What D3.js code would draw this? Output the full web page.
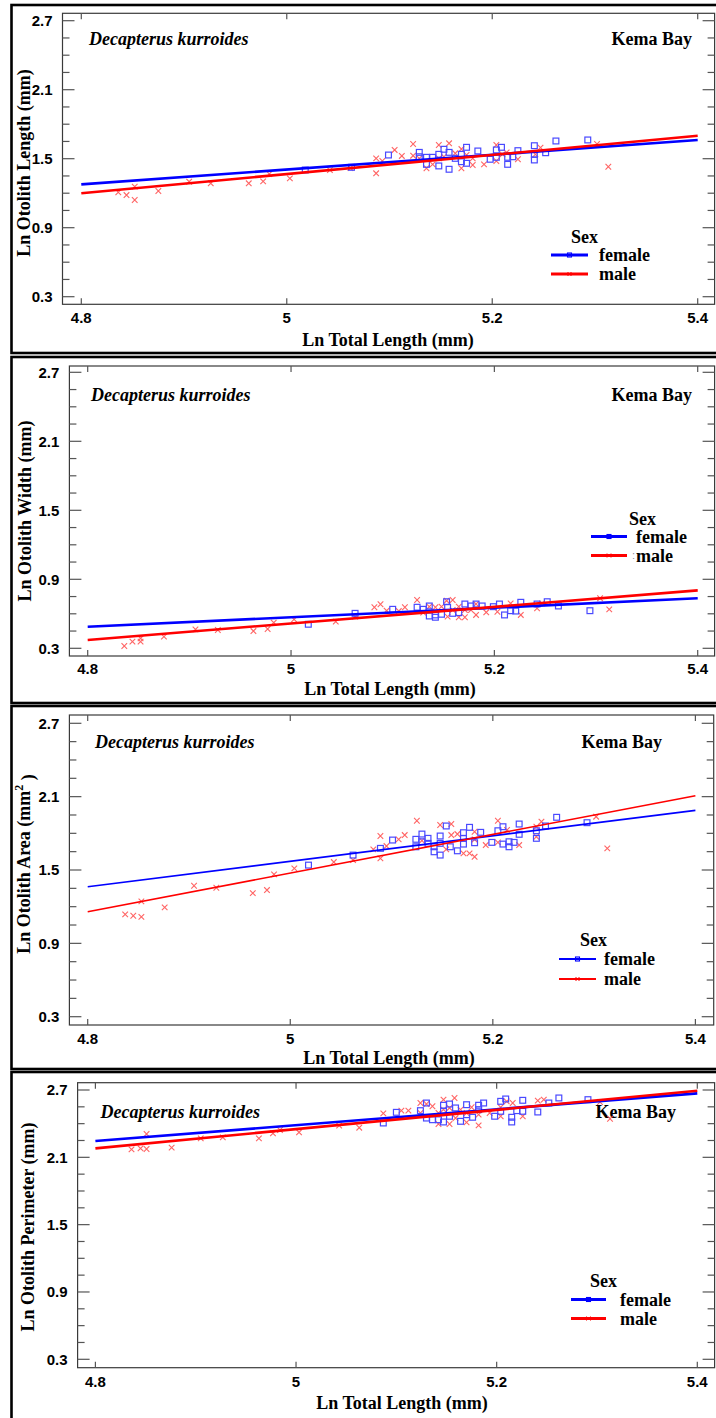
<!DOCTYPE html>
<html><head><meta charset="utf-8">
<script src="https://cdn.jsdelivr.net/npm/d3@7"></script>
<style>
  body { margin: 0; background: #fff; }
  svg { display: block; }
</style>
</head>
<body>
<svg id="fig" width="716" height="1418"></svg>
<script>
// Decapterus kurroides, Kema Bay: otolith dimensions against total length (ln scale)

const xTicks = [4.8, 5, 5.2, 5.4];
const yTicks = [0.3, 0.9, 1.5, 2.1, 2.7];
const yMinorTicks = d3.range(0.3, 2.7001, 0.15);
const fitX = [4.8, 5.4];
const sexes = ["female", "male"];

// Otolith length: [ln TL, ln OL]
const olFemale = [[5.018,1.402],[5.063,1.425],[5.099,1.532],[5.129,1.555],[5.129,1.517],[5.136,1.512],[5.136,1.451],[5.142,1.512],[5.148,1.538],[5.148,1.437],[5.153,1.582],[5.158,1.555],[5.158,1.408],[5.164,1.503],[5.170,1.538],[5.170,1.474],[5.175,1.599],[5.175,1.460],[5.186,1.567],[5.198,1.495],[5.204,1.576],[5.204,1.512],[5.209,1.599],[5.215,1.512],[5.215,1.451],[5.220,1.517],[5.225,1.570],[5.241,1.613],[5.241,1.538],[5.241,1.489],[5.252,1.552],[5.262,1.654],[5.293,1.663]];
const olMale = [[4.836,1.208],[4.844,1.184],[4.852,1.141],[4.852,1.257],[4.875,1.219],[4.905,1.300],[4.926,1.286],[4.963,1.286],[4.977,1.303],[4.983,1.367],[5.003,1.329],[5.042,1.401],[5.062,1.419],[5.087,1.503],[5.087,1.373],[5.093,1.480],[5.105,1.576],[5.112,1.524],[5.123,1.628],[5.123,1.526],[5.129,1.503],[5.136,1.417],[5.142,1.451],[5.148,1.619],[5.148,1.503],[5.153,1.517],[5.158,1.634],[5.164,1.547],[5.170,1.584],[5.170,1.417],[5.175,1.532],[5.181,1.503],[5.181,1.445],[5.192,1.451],[5.204,1.619],[5.204,1.480],[5.210,1.538],[5.214,1.555],[5.225,1.495],[5.242,1.538],[5.247,1.596],[5.302,1.628],[5.313,1.430]];
const olFemaleFit = [1.277, 1.663];
const olMaleFit = [1.199, 1.700];

// Otolith width: [ln TL, ln OW]
const owFemale = [[5.017,0.509],[5.063,0.604],[5.100,0.639],[5.124,0.657],[5.130,0.639],[5.136,0.668],[5.136,0.581],[5.142,0.590],[5.142,0.570],[5.148,0.596],[5.153,0.705],[5.154,0.657],[5.159,0.604],[5.165,0.610],[5.171,0.685],[5.177,0.668],[5.182,0.685],[5.188,0.668],[5.199,0.662],[5.205,0.685],[5.210,0.590],[5.216,0.627],[5.221,0.624],[5.226,0.700],[5.242,0.685],[5.252,0.705],[5.263,0.668],[5.294,0.627]];
const owMale = [[4.836,0.320],[4.844,0.358],[4.852,0.358],[4.852,0.387],[4.875,0.401],[4.906,0.465],[4.928,0.459],[4.963,0.450],[4.977,0.468],[4.983,0.523],[5.003,0.552],[5.044,0.532],[5.063,0.575],[5.082,0.657],[5.088,0.683],[5.094,0.627],[5.106,0.624],[5.112,0.657],[5.124,0.720],[5.130,0.610],[5.136,0.662],[5.142,0.657],[5.148,0.662],[5.153,0.714],[5.159,0.720],[5.154,0.575],[5.159,0.633],[5.165,0.662],[5.165,0.570],[5.171,0.633],[5.171,0.570],[5.177,0.633],[5.182,0.685],[5.182,0.590],[5.192,0.613],[5.203,0.618],[5.216,0.691],[5.226,0.590],[5.242,0.648],[5.247,0.691],[5.304,0.735],[5.313,0.639]];
const owFemaleFit = [0.488, 0.735];
const owMaleFit = [0.372, 0.804];

// Otolith area: [ln TL, ln OA]
const oaFemale = [[5.018,1.540],[5.062,1.622],[5.089,1.677],[5.101,1.745],[5.124,1.751],[5.124,1.690],[5.130,1.794],[5.130,1.731],[5.136,1.759],[5.136,1.718],[5.142,1.690],[5.142,1.649],[5.148,1.778],[5.148,1.718],[5.148,1.622],[5.154,1.860],[5.158,1.690],[5.165,1.657],[5.171,1.805],[5.171,1.759],[5.171,1.712],[5.177,1.849],[5.182,1.723],[5.188,1.808],[5.199,1.726],[5.205,1.821],[5.210,1.854],[5.210,1.712],[5.216,1.731],[5.216,1.690],[5.221,1.726],[5.226,1.876],[5.226,1.792],[5.243,1.821],[5.243,1.759],[5.252,1.860],[5.263,1.931],[5.293,1.887]];
const oaMale = [[4.837,1.137],[4.845,1.126],[4.853,1.117],[4.853,1.243],[4.876,1.194],[4.905,1.371],[4.927,1.355],[4.963,1.311],[4.977,1.336],[4.984,1.464],[5.004,1.513],[5.043,1.565],[5.062,1.581],[5.082,1.669],[5.089,1.778],[5.089,1.595],[5.095,1.696],[5.107,1.751],[5.113,1.786],[5.125,1.903],[5.130,1.740],[5.148,1.868],[5.159,1.876],[5.154,1.669],[5.159,1.786],[5.165,1.794],[5.171,1.636],[5.177,1.636],[5.182,1.608],[5.182,1.813],[5.182,1.750],[5.193,1.704],[5.205,1.903],[5.205,1.726],[5.214,1.827],[5.226,1.704],[5.243,1.854],[5.243,1.772],[5.248,1.895],[5.302,1.936],[5.313,1.677]];
const oaFemaleFit = [1.363, 1.988];
const oaMaleFit = [1.158, 2.108];

// Otolith perimeter: [ln TL, ln OP]
const opFemale = [[5.087,2.406],[5.100,2.501],[5.124,2.516],[5.130,2.584],[5.130,2.450],[5.136,2.435],[5.142,2.435],[5.147,2.564],[5.147,2.510],[5.147,2.415],[5.153,2.575],[5.153,2.466],[5.159,2.540],[5.164,2.421],[5.170,2.569],[5.170,2.480],[5.176,2.457],[5.182,2.564],[5.182,2.525],[5.187,2.584],[5.198,2.466],[5.204,2.599],[5.204,2.510],[5.209,2.620],[5.215,2.457],[5.215,2.415],[5.220,2.516],[5.226,2.608],[5.226,2.510],[5.241,2.504],[5.252,2.584],[5.262,2.629],[5.291,2.614]];
const opMale = [[4.836,2.171],[4.845,2.180],[4.851,2.174],[4.851,2.308],[4.876,2.186],[4.905,2.269],[4.927,2.278],[4.963,2.269],[4.977,2.314],[4.984,2.344],[5.003,2.323],[5.043,2.382],[5.063,2.364],[5.087,2.492],[5.105,2.516],[5.112,2.516],[5.124,2.584],[5.124,2.495],[5.130,2.575],[5.136,2.555],[5.142,2.397],[5.142,2.495],[5.147,2.614],[5.147,2.525],[5.153,2.540],[5.153,2.397],[5.158,2.629],[5.159,2.450],[5.164,2.525],[5.170,2.495],[5.170,2.412],[5.175,2.546],[5.182,2.480],[5.182,2.385],[5.193,2.495],[5.204,2.546],[5.204,2.466],[5.210,2.599],[5.216,2.584],[5.226,2.466],[5.241,2.605],[5.247,2.614],[5.303,2.593],[5.313,2.444]];
const opFemaleFit = [2.245, 2.670];
const opMaleFit = [2.180, 2.694];

const species = "Decapterus kurroides";
const place = "Kema Bay";
const xTitle = "Ln Total Length (mm)";

// Layout of each framed panel
const panels = [
  { yTitle: ["Ln Otolith Length (mm)"], female: olFemale, male: olMale, fFit: olFemaleFit, mFit: olMaleFit,
    box: [5, 353], frame: [62.5, 714.6, 13.3, 304.3], xr: [81.3, 697.7], yr: [20.7, 296.7],
    yT: [24, 163], xT: [388, 340], tickY: 318, sp: [89, 38.5], pl: [692, 38.5],
    lg: { sx: 571, sy: 237, l0: 551, l1: 588, fy: 255, my: 274, tx: 599 }, lw: 2.6 },
  { yTitle: ["Ln Otolith Width (mm)"], female: owFemale, male: owMale, fFit: owFemaleFit, mFit: owMaleFit,
    box: [357, 703], frame: [69.4, 714.6, 366, 656], xr: [87.7, 697.7], yr: [372.3, 648.3],
    yT: [25, 511], xT: [390, 689], tickY: 669, sp: [91, 395], pl: [692, 395],
    lg: { sx: 629, sy: 519, l0: 591, l1: 627, fy: 536.5, my: 555.5, tx: 636, colon: true }, lw: 2.6 },
  { yTitle: ["Ln Otolith Area (mm", "2", " )"], female: oaFemale, male: oaMale, fFit: oaFemaleFit, mFit: oaMaleFit,
    box: [706, 1069], frame: [69.4, 713.7, 715, 1025], xr: [87.7, 695.4], yr: [723.3, 1016.7],
    yT: [24, 864], xT: [389, 1058], tickY: 1039, sp: [95, 742], pl: [662, 742],
    lg: { sx: 580, sy: 940, l0: 559, l1: 596, fy: 959, my: 979, tx: 604 }, lw: 1.6 },
  { yTitle: ["Ln Otolith Perimeter (mm)"], female: opFemale, male: opMale, fFit: opFemaleFit, mFit: opMaleFit,
    box: [1072, 1422], frame: [77.6, 714.6, 1082.7, 1367.7], xr: [95.4, 697.3], yr: [1090, 1359.3],
    yT: [28, 1227], xT: [402, 1403], tickY: 1382, sp: [100.5, 1112], pl: [676, 1112],
    lg: { sx: 590, sy: 1281, l0: 571, l1: 606, fy: 1299.5, my: 1318.5, tx: 620 }, lw: 2.6 }
];

const colors = { female: "#0000ff", male: "#ff0000" };
const markColors = { female: "#2a2aff", male: "#ff4a4a" };
const serif = "'Liberation Serif', 'Times New Roman', serif";
const sans = "'Liberation Sans', Arial, sans-serif";

const svg = d3.select("#fig");

function square(g, x, y, s, color, w) {
  g.append("rect").attr("x", x - s / 2).attr("y", y - s / 2).attr("width", s).attr("height", s)
    .attr("fill", "none").attr("stroke", color).attr("stroke-width", w);
}
function cross(g, x, y, s, color, w) {
  const h = s / 2;
  g.append("path").attr("d", `M${x - h},${y - h}L${x + h},${y + h}M${x - h},${y + h}L${x + h},${y - h}`)
    .attr("stroke", color).attr("stroke-width", w).attr("fill", "none");
}

panels.forEach(p => {
  const g = svg.append("g");
  const [fx0, fx1, fy0, fy1] = p.frame;
  const x = d3.scaleLinear().domain([4.8, 5.4]).range(p.xr);
  const y = d3.scaleLinear().domain([2.7, 0.3]).range(p.yr);

  // outer panel border
  g.append("rect").attr("x", 11.5).attr("y", p.box[0]).attr("width", 712).attr("height", p.box[1] - p.box[0])
    .attr("fill", "none").attr("stroke", "#000").attr("stroke-width", 2.6);

  // plot frame
  g.append("rect").attr("x", fx0).attr("y", fy0).attr("width", fx1 - fx0).attr("height", fy1 - fy0)
    .attr("fill", "none").attr("stroke", "#3a3a3a").attr("stroke-width", 1.2);

  // y ticks on both sides, pointing inward
  const tickG = g.append("g").attr("stroke", "#555").attr("stroke-width", 1.2);
  yMinorTicks.forEach(v => {
    const major = yTicks.some(t => Math.abs(t - v) < 1e-6);
    const len = major ? 12 : 7;
    tickG.append("line").attr("x1", fx0).attr("x2", fx0 + len).attr("y1", y(v)).attr("y2", y(v));
    tickG.append("line").attr("x1", fx1).attr("x2", fx1 - len).attr("y1", y(v)).attr("y2", y(v));
  });
  xTicks.forEach(v => {
    tickG.append("line").attr("x1", x(v)).attr("x2", x(v)).attr("y1", fy1).attr("y2", fy1 - 6);
    tickG.append("line").attr("x1", x(v)).attr("x2", x(v)).attr("y1", fy0).attr("y2", fy0 + 6);
  });

  // tick labels
  g.selectAll(".yl").data(yTicks).join("text")
    .attr("x", fx0 - 10).attr("y", d => y(d)).attr("dy", "0.36em")
    .attr("text-anchor", "end").attr("font-family", sans).attr("font-weight", "bold").attr("font-size", 15)
    .text(d => d3.format(".1f")(d));
  g.selectAll(".xl").data(xTicks).join("text")
    .attr("x", d => x(d)).attr("y", p.tickY).attr("dy", "0.36em")
    .attr("text-anchor", "middle").attr("font-family", sans).attr("font-weight", "bold").attr("font-size", 15)
    .text(d => d3.format("~g")(d));

  // axis titles
  g.append("text").attr("x", p.xT[0]).attr("y", p.xT[1]).attr("dy", "0.35em").attr("text-anchor", "middle")
    .attr("font-family", serif).attr("font-weight", "bold").attr("font-size", 18).text(xTitle);
  const yt = g.append("text").attr("transform", `translate(${p.yT[0]},${p.yT[1]}) rotate(-90)`)
    .attr("dy", "0.35em").attr("text-anchor", "middle")
    .attr("font-family", serif).attr("font-weight", "bold").attr("font-size", 18);
  yt.append("tspan").text(p.yTitle[0]);
  if (p.yTitle.length > 1) {
    yt.append("tspan").attr("font-size", 12).attr("dy", "-0.6em").text(p.yTitle[1]);
    yt.append("tspan").attr("dy", "0.6em").text(p.yTitle[2]);
  }

  // in-plot labels
  g.append("text").attr("x", p.sp[0]).attr("y", p.sp[1]).attr("dy", "0.35em")
    .attr("font-family", serif).attr("font-weight", "bold").attr("font-style", "italic").attr("font-size", 18)
    .text(species);
  g.append("text").attr("x", p.pl[0]).attr("y", p.pl[1]).attr("dy", "0.35em").attr("text-anchor", "end")
    .attr("font-family", serif).attr("font-weight", "bold").attr("font-size", 18).text(place);

  // observations
  const pts = g.append("g").attr("opacity", 0.85);
  p.male.forEach(d => cross(pts, x(d[0]), y(d[1]), 5.6, markColors.male, 1.1));
  p.female.forEach(d => square(pts, x(d[0]), y(d[1]), 5.8, markColors.female, 1.2));

  // fitted regressions
  const line = d3.line().x(d => x(d[0])).y(d => y(d[1]));
  [["female", p.fFit], ["male", p.mFit]].forEach(([s, fit]) => {
    g.append("path").datum(fitX.map((v, i) => [v, fit[i]])).attr("d", line)
      .attr("stroke", colors[s]).attr("stroke-width", p.lw).attr("fill", "none");
  });

  // legend
  const L = p.lg;
  g.append("text").attr("x", L.sx).attr("y", L.sy).attr("dy", "0.35em")
    .attr("font-family", serif).attr("font-weight", "bold").attr("font-size", 18).text("Sex");
  sexes.forEach(s => {
    const ly = s === "female" ? L.fy : L.my;
    g.append("line").attr("x1", L.l0).attr("x2", L.l1).attr("y1", ly).attr("y2", ly)
      .attr("stroke", colors[s]).attr("stroke-width", p.lw + 0.4);
    const cx = (L.l0 + L.l1) / 2;
    if (s === "female") square(g, cx, ly, 4, colors.female, 1.1);
    else cross(g, cx, ly, 4, colors.male, 1);
    g.append("text").attr("x", L.tx).attr("y", ly).attr("dy", "0.35em")
      .attr("font-family", serif).attr("font-weight", "bold").attr("font-size", 18).text(s);
    if (s === "male" && L.colon) {
      g.append("text").attr("x", L.tx - 4).attr("y", ly).attr("dy", "0.35em")
        .attr("font-family", sans).attr("font-size", 11).attr("fill", "#8a8aa0").text(":");
    }
  });
});
</script>
</body></html>
